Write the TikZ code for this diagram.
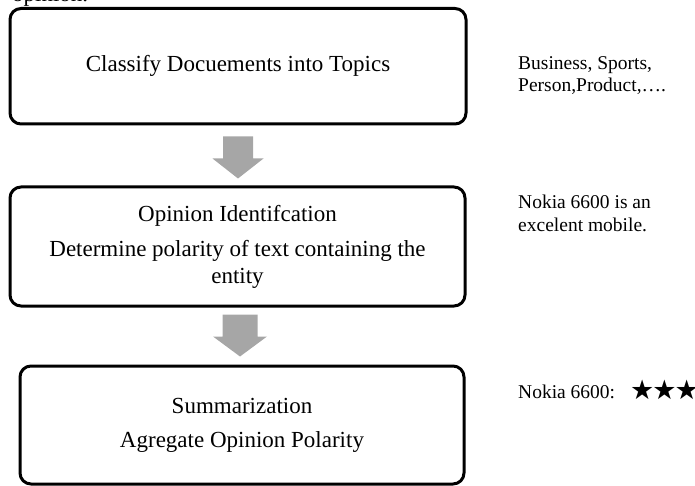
\documentclass[tikz,border=0pt]{standalone}
\usepackage{fontspec}
\setmainfont{Liberation Serif}
\newfontfamily\symfont{DejaVu Sans}
\usetikzlibrary{calc}
\definecolor{arrowgray}{RGB}{166,166,166}
\begin{document}
\begin{tikzpicture}[x=1pt,y=-1pt,
  stepbox/.style={draw, line width=3pt, rounded corners=11pt, inner sep=0pt,
    font=\fontsize{23}{25}\selectfont, align=center},
  sidetext/.style={font=\fontsize{19.5}{22}\selectfont, anchor=base west, inner sep=0pt},
  blockarrow/.style={fill=arrowgray, draw=none}]
\useasboundingbox (0,0) rectangle (695,486);
% partially visible caption at the top
\node[anchor=base west, inner sep=0pt, font=\fontsize{23}{25}\selectfont] (cap) at (12,2) {opinion.};
% boxes
\node[stepbox, minimum width=456pt, minimum height=115.5pt] (b1) at (238,66.25)
  {Classify Docuements into Topics};
\node[stepbox, minimum width=455pt, minimum height=119pt] (b2) at (237.5,246.5)
  {Opinion Identifcation\\[10pt]Determine polarity of text containing the\\[2pt]entity};
\node[stepbox, minimum width=444pt, minimum height=118pt] (b3) at (242,425)
  {Summarization\\[9pt]Agregate Opinion Polarity};
% block arrows
\fill[blockarrow] ($(b1.south)+(-15,11)$) -- ($(b1.south)+(15,11)$) -- ($(b1.south)+(15,33)$)
  -- ($(b1.south)+(25.5,33)$) -- ($(b2.north)+(0.5,-7)$) -- ($(b1.south)+(-25.5,33)$)
  -- ($(b1.south)+(-15,33)$) -- cycle;
\fill[blockarrow] ($(b2.south)+(-15,7)$) -- ($(b2.south)+(20,7)$) -- ($(b2.south)+(20,29)$)
  -- ($(b2.south)+(29.5,29)$) -- ($(b3.north)+(-2,-8)$) -- ($(b2.south)+(-24.5,29)$)
  -- ($(b2.south)+(-15,29)$) -- cycle;
% side notes
\node[sidetext] (n1a) at (518,70) {Business, Sports,};
\node[sidetext] (n1b) at (518,92) {Person,Product,….};
\node[sidetext] (n2a) at (518,209) {Nokia 6600 is an};
\node[sidetext] (n2b) at (518,231) {excelent mobile.};
\node[sidetext] (n3) at (518,398) {Nokia 6600:};
\node[anchor=base west, inner sep=0pt, font=\symfont\fontsize{27}{27}\selectfont] (stars) at (630,399)
  {★\kern-2pt★\kern-2pt★};
\end{tikzpicture}
\end{document}
